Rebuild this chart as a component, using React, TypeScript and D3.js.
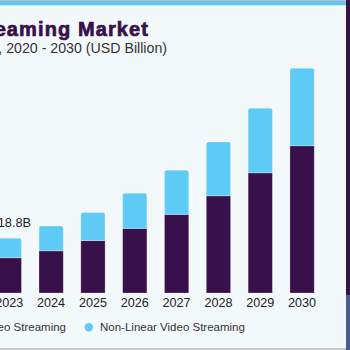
import { useEffect } from "react";
import * as d3 from "d3";

// values (USD billion)
const years = ["2023", "2024", "2025", "2026", "2027", "2028", "2029", "2030"];
const linearValues = [12.1, 14.5, 18.0, 22.2, 27.0, 33.4, 41.3, 50.6];
const nonLinearValues = [6.7, 8.5, 9.7, 12.1, 15.2, 18.5, 22.2, 26.6];
const seriesNames = ["Linear Video Streaming", "Non-Linear Video Streaming"];
const colors = ["#38104a", "#5ecbf7"];

const W = 350;
const H = 350;
const FONT = "'Liberation Sans', Arial, sans-serif";

export default function App() {
  useEffect(() => {
    document.body.style.margin = "0";
  }, []);

  const rows = years.map((y, i) => ({
    year: y,
    linear: linearValues[i],
    nonLinear: nonLinearValues[i],
  }));
  const stacked = d3.stack<any>().keys(["linear", "nonLinear"])(rows);

  const x = d3
    .scaleBand()
    .domain(years)
    .range([-11.6, 323])
    .paddingInner(0.42)
    .paddingOuter(0.21);

  const y = d3.scaleLinear().domain([0, 80]).range([293, 60.2]);

  // top segment gets small rounded top corners
  const topPath = (x0: number, y0: number, w: number, y1: number, r: number) =>
    `M${x0},${y1}V${y0 + r}Q${x0},${y0} ${x0 + r},${y0}H${x0 + w - r}Q${x0 + w},${y0} ${x0 + w},${y0 + r}V${y1}Z`;

  const first = rows[0];

  return (
    <svg width={W} height={H} style={{ display: "block" }} fontFamily={FONT}>
      <rect x={0} y={0} width={W} height={H} fill="#f3f8fb" />
      <rect x={0} y={0} width={346} height={1} fill="#c9b6cc" />
      <rect x={0} y={1} width={346} height={4.3} fill="#62c8f0" />
      <rect x={346} y={0} width={4} height={H} fill="#38104a" />
      <rect x={346} y={295} width={4} height={55} fill="#4a6fa8" opacity={0.8} />
      <rect x={0} y={348} width={346} height={2} fill="#c8c8c8" />

      <text
        x={149}
        y={35.5}
        textAnchor="end"
        fontSize={20}
        fontWeight={900}
        letterSpacing={1.1}
        fill="#38104a"
        stroke="#38104a"
        strokeWidth={0.7}
      >
        U.S. Video Streaming Market
      </text>
      <text x={167} y={53} textAnchor="end" fontSize={14.2} fill="#333">
        size, by type, 2020 - 2030 (USD Billion)
      </text>

      {stacked.map((s, si) => (
        <g key={s.key} fill={colors[si]}>
          {s.map((d, i) => {
            const x0 = x(years[i])!;
            const w = x.bandwidth();
            if (si === 1) {
              return (
                <path
                  key={i}
                  d={topPath(x0, y(d[1]), w, y(d[0]), 2)}
                  stroke="rgba(255,255,255,0.35)"
                  strokeWidth={0.8}
                />
              );
            }
            return (
              <rect
                key={i}
                x={x0}
                y={y(d[1])}
                width={w}
                height={y(d[0]) - y(d[1])}
                stroke="rgba(255,255,255,0.3)"
                strokeWidth={0.8}
              />
            );
          })}
        </g>
      ))}

      <text x={x("2023")! + 0.5} y={227.3} fontSize={12.8} fill="#222">
        {`${d3.format(".1f")(first.linear + first.nonLinear)}B`}
      </text>

      {years.map((yr) => (
        <text
          key={yr}
          x={x(yr)! + x.bandwidth() / 2}
          y={307}
          textAnchor="middle"
          fontSize={12.6}
          fill="#222"
        >
          {yr}
        </text>
      ))}

      <circle cx={-4} cy={327.3} r={4.2} fill={colors[0]} />
      <text x={66} y={330.5} textAnchor="end" fontSize={11.5} fill="#333">
        {seriesNames[0]}
      </text>
      <circle cx={88.8} cy={327.3} r={4.2} fill={colors[1]} />
      <text x={100} y={330.5} fontSize={11.5} fill="#333">
        {seriesNames[1]}
      </text>
    </svg>
  );
}
